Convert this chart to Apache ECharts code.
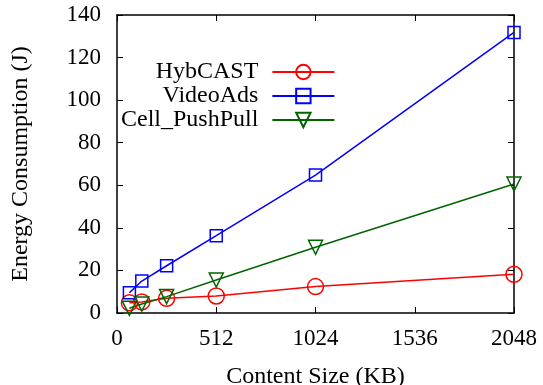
<!DOCTYPE html>
<html>
<head>
<meta charset="utf-8">
<script src="https://cdn.jsdelivr.net/npm/echarts@6/dist/echarts.min.js"></script>
<style>
  html, body { margin: 0; padding: 0; background: #fff; }
  #chart { width: 543px; height: 385px; }
</style>
</head>
<body>
<div id="chart"></div>
<script>
// content sizes in KB
var sizes = [64, 128, 256, 512, 1024, 2048];
var hybcast = [4.8, 5.2, 6.9, 8.0, 12.4, 18.2];
var videoAds = [9.5, 15.0, 22.2, 36.3, 64.8, 131.8];
var cellPushPull = [2.2, 4.2, 7.7, 15.5, 30.9, 60.6];

var fontFamily = '"Liberation Serif", "DejaVu Serif", serif';
var tickFont = 23;
var textFont = 24;

function pairs(ys) {
    return sizes.map(function (x, i) {
        return [x, ys[i]];
    });
}

function lineSeries(name, color, symbol, symbolSize, rotate, data) {
    return {
        name: name,
        type: 'line',
        data: pairs(data),
        symbol: symbol,
        symbolSize: symbolSize,
        symbolRotate: rotate,
        showAllSymbol: true,
        lineStyle: { color: color, width: 1.5 },
        itemStyle: { color: 'transparent', borderColor: color, borderWidth: 1.5 },
        emphasis: { disabled: true },
        animation: false,
    };
}

var chart = echarts.init(document.getElementById('chart'));
var axisLine = { show: true, onZero: false, lineStyle: { color: '#000', width: 1.5 } };
var axisTick = { show: true, inside: true, length: 6, lineStyle: { color: '#000', width: 1 } };
var plainLabel = function (v) { return String(v); };
var option = {
    animation: false,
    grid: { left: 117, right: 29, top: 15, bottom: 72, outerBoundsMode: 'none', containLabel: false },
    legend: {
        orient: 'vertical',
        align: 'right',
        left: 121,
        top: 60,
        padding: 0,
        itemWidth: 62,
        itemHeight: 18,
        itemGap: 0,
        textStyle: { fontFamily: fontFamily, fontSize: textFont, color: '#000', padding: [0, 9, 0, 0] },
        data: ['HybCAST', 'VideoAds', 'Cell_PushPull'],
    },
    xAxis: [{
        type: 'value',
        min: 0,
        max: 2048,
        interval: 512,
        name: 'Content Size (KB)',
        nameLocation: 'middle',
        nameGap: 52,
        nameTextStyle: { fontFamily: fontFamily, fontSize: textFont, color: '#000' },
        axisLine: axisLine,
        axisTick: axisTick,
        axisLabel: { fontFamily: fontFamily, fontSize: tickFont, color: '#000', margin: 14, formatter: plainLabel },
        splitLine: { show: false },
    }, {
        type: 'value',
        position: 'top',
        min: 0,
        max: 2048,
        interval: 512,
        axisLine: axisLine,
        axisTick: axisTick,
        axisLabel: { show: false },
        splitLine: { show: false },
    }],
    yAxis: [{
        type: 'value',
        min: 0,
        max: 140,
        interval: 20,
        name: 'Energy Consumption (J)',
        nameLocation: 'middle',
        nameGap: 84,
        nameTextStyle: { fontFamily: fontFamily, fontSize: textFont, color: '#000' },
        axisLine: axisLine,
        axisTick: axisTick,
        axisLabel: { fontFamily: fontFamily, fontSize: tickFont, color: '#000', margin: 16, formatter: plainLabel },
        splitLine: { show: false },
    }, {
        type: 'value',
        position: 'right',
        min: 0,
        max: 140,
        interval: 20,
        axisLine: axisLine,
        axisTick: axisTick,
        axisLabel: { show: false },
        splitLine: { show: false },
    }],
    series: [
        lineSeries('HybCAST', '#ff0000', 'circle', 16, 0, hybcast),
        lineSeries('VideoAds', '#0000ff', 'rect', 12, 0, videoAds),
        lineSeries('Cell_PushPull', '#006400', 'triangle', 14, 180, cellPushPull),
    ],
};
chart.setOption(option);
</script>
</body>
</html>
